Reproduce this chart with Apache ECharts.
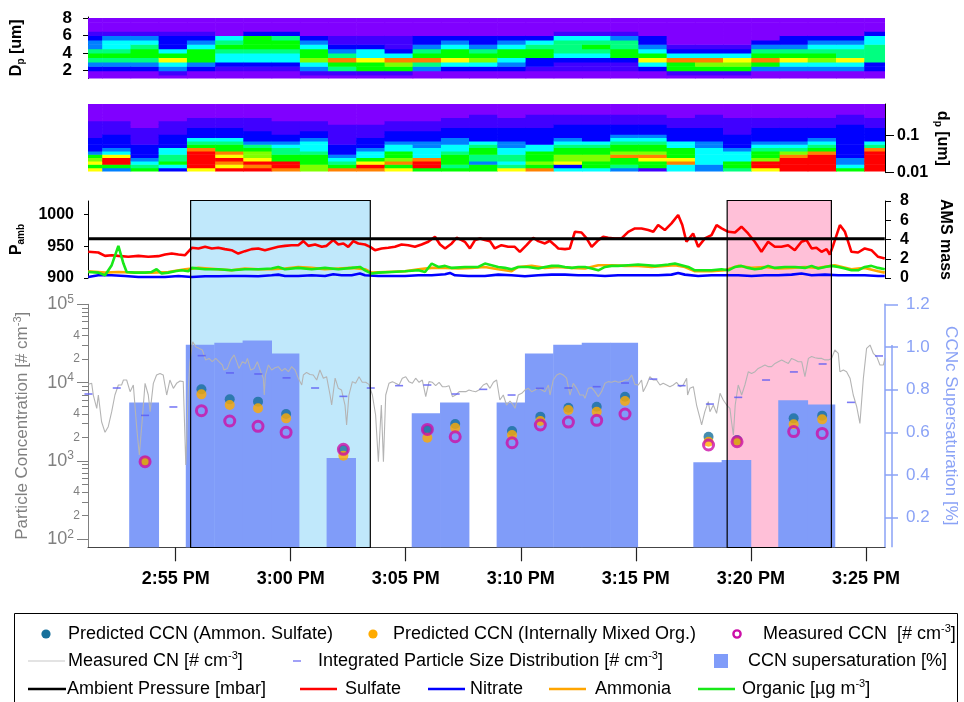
<!DOCTYPE html>
<html>
<head>
<meta charset="utf-8">
<script src="https://cdn.jsdelivr.net/npm/echarts@6/dist/echarts.min.js"></script>
<style>
  html, body { margin: 0; padding: 0; background: #ffffff; }
  #chart { width: 964px; height: 702px; }
</style>
</head>
<body>
<div id="chart"></div>
<script>
// Times are minutes after 12:00 PM.
const timeMin = 171.19;
const timeMax = 205.83;
const timeTicks = [175, 180, 185, 190, 195, 200, 205];

// Size-distribution scan boundaries (minutes after noon).
const scanEdges = [171.19, 171.81, 173.04, 174.26, 175.49, 176.72, 177.94, 179.17, 180.40, 181.62,
  182.85, 184.08, 185.30, 186.53, 187.75, 188.98, 190.21, 191.43, 192.66, 193.89,
  195.11, 196.34, 197.57, 198.79, 200.02, 201.25, 202.47, 203.70, 204.93, 205.83];

// Coarse mode bins, D_p [um], and the colour level (0-10, hex digit) of each bin per scan.
const coarseEdges = [1.0, 1.5, 2.0, 2.5, 3.0, 3.5, 4.0, 4.5, 5.0, 5.5, 6.0, 6.5, 7.0, 7.5, 8.0];
const coarseLevels = [
  "00235653321000", "00235654431000", "00235665431000", "01348642221000", "00236664321000",
  "00124456540000", "00124456662000", "00124456652000", "01347664320000", "01569532110000",
  "01668442110000", "01679421110000", "00359653220000", "00248664320000", "00247653220000",
  "00234664320000", "00122665420000", "00112455541000", "00112456541000", "00112665531000",
  "00248643220000", "01669421000000", "01679421000000", "01678421000000", "00369653200000",
  "00348653220000", "00347654320000", "00348554320000", "00225555442000"
];

// Fine mode bins, d_p [um] (log spaced), and colour level per scan.
const fineEdges = [0.01119, 0.01378, 0.01698, 0.02090, 0.02574, 0.03170, 0.03904, 0.04806, 0.05919,
  0.07289, 0.08974, 0.1105, 0.1361, 0.1676, 0.2064, 0.2541, 0.3130, 0.3854, 0.4746, 0.5843, 0.7194];
const fineLevels = [
  "86876322221111100000", "36aa8432222111100000", "65432222111110000000", "24655442222111100000",
  "8aaaaa96542221110000", "a89a8966542221110000", "a9a87765322211110000", "9aa66554322111100000",
  "77666544432211100000", "96543222111111000000", "9a864432221111000000", "86976644322211100000",
  "6aa94443322211100000", "65666544332221110000", "66355665422221111000", "85455443322221110000",
  "96766644222221111000", "42877665432222111000", "46677665422222111000", "35669766543222111000",
  "16689766543222111000", "44986664422221110000", "33444443322221111000", "56644432222111110000",
  "8aa76654322221110000", "aaaa9754322221110000", "aaaaa965432221110000", "64332222222222111000",
  "aaaaaa95422221110000"
];

// Ambient pressure [mbar]
const pressure = [[171.20, 962], [174.45, 962], [174.52, 960.6], [174.60, 962], [176.50, 962], [176.57, 960.6],
  [176.65, 962], [177.88, 962], [177.94, 960.8], [178.02, 962], [185.00, 962], [185.06, 961], [185.12, 962],
  [191.70, 962], [191.77, 960.8], [191.84, 962], [202.00, 962], [202.06, 960.6], [202.12, 962],
  [203.30, 962], [203.36, 960.6], [203.42, 962], [205.33, 962], [205.39, 960.8], [205.45, 962], [205.82, 962]];

// AMS species mass [ug m-3]
const sulfate = [[171.20, 2.72], [171.64, 2.65], [171.93, 2.30], [172.22, 2.37], [172.51, 2.30], [172.94, 2.20],
  [173.38, 2.30], [173.81, 2.20], [174.25, 2.27], [174.54, 2.44], [174.83, 2.54], [175.12, 2.44], [175.41, 2.37],
  [175.70, 3.14], [175.99, 3.07], [176.28, 3.24], [176.57, 3.07], [176.85, 3.14], [177.14, 3.00], [177.43, 2.89],
  [177.72, 2.54], [178.01, 2.79], [178.30, 3.00], [178.59, 3.07], [178.88, 2.89], [179.17, 3.07], [179.46, 3.24],
  [179.75, 3.34], [180.04, 3.41], [180.33, 3.41], [180.55, 3.83], [180.77, 3.34], [181.06, 3.48], [181.35, 3.24],
  [181.56, 3.34], [181.85, 3.94], [182.07, 3.48], [182.29, 3.59], [182.50, 3.24], [182.72, 3.83], [182.94, 3.59],
  [183.23, 3.48], [183.45, 3.24], [183.66, 2.89], [183.95, 3.07], [184.24, 3.14], [184.53, 3.24], [184.82, 3.48],
  [185.11, 3.41], [185.40, 3.24], [185.69, 3.48], [185.98, 3.76], [186.27, 4.28], [186.49, 3.48], [186.71, 3.07],
  [187.00, 3.59], [187.21, 4.18], [187.43, 3.94], [187.57, 3.76], [187.79, 3.07], [188.01, 3.94], [188.23, 4.11],
  [188.44, 3.94], [188.66, 3.83], [188.87, 3.07], [189.16, 3.41], [189.45, 3.24], [189.74, 3.24], [189.96, 2.72],
  [190.25, 3.41], [190.54, 4.18], [190.76, 3.83], [191.05, 3.59], [191.26, 3.87], [191.48, 3.41], [191.63, 3.07],
  [191.92, 3.00], [192.13, 3.07], [192.35, 4.80], [192.64, 4.73], [192.86, 4.11], [193.08, 3.24], [193.37, 3.94],
  [193.58, 4.28], [193.80, 4.18], [194.09, 4.11], [194.38, 4.11], [194.67, 4.80], [194.96, 5.15], [195.25, 5.15],
  [195.54, 4.98], [195.76, 4.80], [195.97, 5.50], [196.26, 4.98], [196.55, 5.68], [196.84, 6.55], [197.02, 5.50],
  [197.20, 3.76], [197.49, 4.63], [197.71, 3.24], [198.00, 4.11], [198.29, 4.46], [198.51, 5.50], [198.73, 5.15],
  [199.02, 4.80], [199.31, 4.73], [199.59, 5.33], [199.88, 4.63], [200.17, 3.76], [200.46, 2.72], [200.75, 3.76],
  [201.04, 3.24], [201.33, 3.24], [201.62, 3.41], [201.91, 2.89], [202.20, 3.76], [202.42, 3.94], [202.64, 3.07],
  [202.85, 3.14], [203.07, 2.72], [203.29, 3.00], [203.43, 2.44], [203.58, 3.41], [203.87, 5.50], [204.09, 4.80],
  [204.37, 2.72], [204.66, 2.65], [204.95, 3.07], [205.24, 2.89], [205.53, 2.20], [205.82, 2.02]];

const nitrate = [[171.20, 0.11], [171.64, 0.28], [172.22, 0.28], [172.80, 0.21], [173.38, 0.11], [173.96, 0.11],
  [174.54, 0.11], [175.12, 0.21], [175.70, 0.11], [176.28, 0.18], [176.85, 0.18], [177.43, 0.21], [178.01, 0.21],
  [178.59, 0.18], [179.17, 0.28], [179.46, 0.35], [179.75, 0.21], [180.33, 0.21], [180.91, 0.28], [181.49, 0.21],
  [181.85, 0.39], [182.21, 0.28], [182.65, 0.28], [183.01, 0.46], [183.23, 0.28], [183.81, 0.21], [184.39, 0.21],
  [184.97, 0.21], [185.55, 0.28], [186.13, 0.28], [186.71, 0.39], [186.92, 0.53], [187.14, 0.28], [187.72, 0.21],
  [188.44, 0.21], [189.02, 0.35], [189.60, 0.28], [190.18, 0.18], [190.76, 0.28], [191.34, 0.35], [191.92, 0.35],
  [192.50, 0.28], [193.08, 0.28], [193.66, 0.21], [194.23, 0.28], [194.81, 0.28], [195.39, 0.28], [195.97, 0.28],
  [196.55, 0.35], [196.84, 0.53], [197.13, 0.35], [197.71, 0.21], [198.29, 0.28], [198.87, 0.28], [199.45, 0.28],
  [200.03, 0.21], [200.61, 0.28], [201.19, 0.28], [201.77, 0.35], [202.20, 0.46], [202.64, 0.28], [203.22, 0.35],
  [203.80, 0.28], [204.37, 0.28], [204.95, 0.28], [205.53, 0.21], [205.82, 0.21]];

const ammonia = [[171.20, 0.70], [171.93, 0.56], [172.51, 0.63], [173.23, 0.56], [173.96, 0.56], [174.68, 0.63],
  [175.41, 0.91], [175.99, 1.05], [176.85, 0.91], [177.43, 0.80], [178.01, 0.98], [178.59, 0.91], [179.17, 0.91],
  [179.75, 0.98], [180.33, 1.15], [180.91, 1.05], [181.49, 0.91], [182.07, 0.98], [182.65, 1.05], [183.23, 0.91],
  [183.52, 0.56], [184.10, 0.63], [184.97, 0.70], [185.55, 0.91], [186.13, 1.05], [186.71, 1.05], [187.28, 0.98],
  [187.86, 1.05], [188.44, 1.15], [189.02, 0.91], [189.60, 0.70], [189.89, 1.15], [190.47, 1.26], [191.05, 1.05],
  [191.63, 1.15], [192.21, 1.05], [192.79, 0.98], [193.37, 1.33], [193.95, 1.33], [194.52, 1.26], [195.10, 1.26],
  [195.68, 1.15], [196.26, 1.26], [196.70, 1.33], [197.13, 1.15], [197.57, 0.70], [198.29, 0.70], [198.87, 0.80],
  [199.45, 1.26], [200.03, 1.05], [200.61, 1.15], [201.19, 0.98], [201.77, 1.05], [202.35, 1.15], [202.93, 1.05],
  [203.65, 1.33], [204.37, 0.91], [204.95, 1.05], [205.53, 0.70], [205.82, 0.56]];

const organic = [[171.20, 0.63], [171.64, 0.56], [171.93, 0.28], [172.22, 1.33], [172.51, 3.34], [172.73, 1.50],
  [172.87, 0.63], [173.23, 0.56], [173.67, 0.56], [173.96, 0.63], [174.17, 0.91], [174.39, 0.46], [174.68, 0.56],
  [174.97, 0.70], [175.26, 0.80], [175.55, 0.70], [175.70, 1.05], [176.28, 0.91], [176.85, 0.91], [177.43, 0.80],
  [178.01, 0.91], [178.59, 0.91], [179.17, 0.98], [179.46, 1.15], [179.75, 0.91], [180.33, 1.05], [180.91, 0.91],
  [181.49, 1.05], [182.07, 0.91], [182.65, 1.05], [183.01, 1.15], [183.23, 0.80], [183.52, 0.46], [183.81, 0.56],
  [184.39, 0.63], [184.97, 0.70], [185.55, 0.80], [185.84, 0.63], [186.13, 1.50], [186.42, 1.15], [186.71, 1.26],
  [187.00, 1.05], [187.57, 1.15], [188.15, 1.15], [188.44, 1.50], [188.73, 1.33], [189.02, 1.15], [189.31, 1.05],
  [189.60, 0.91], [189.89, 1.15], [190.32, 1.15], [190.76, 0.98], [191.05, 1.15], [191.34, 1.26], [191.63, 1.26],
  [191.92, 1.15], [192.21, 1.05], [192.50, 1.15], [192.79, 1.15], [193.08, 0.98], [193.37, 0.80], [193.66, 1.15],
  [193.95, 1.26], [194.23, 1.26], [194.67, 1.33], [195.10, 1.40], [195.54, 1.33], [195.83, 1.26], [196.12, 1.33],
  [196.41, 1.40], [196.70, 1.50], [196.99, 1.33], [197.28, 1.15], [197.57, 0.80], [197.86, 0.80], [198.29, 0.80],
  [198.73, 0.91], [199.02, 0.80], [199.31, 1.15], [199.59, 1.26], [199.88, 1.05], [200.17, 0.91], [200.46, 0.98],
  [200.75, 1.26], [201.04, 1.05], [201.48, 1.15], [201.91, 1.15], [202.35, 1.05], [202.64, 1.26], [202.93, 0.98],
  [203.22, 1.15], [203.51, 1.26], [203.80, 1.15], [204.09, 0.98], [204.37, 0.80], [204.66, 0.80], [204.95, 1.15],
  [205.24, 1.26], [205.53, 1.05], [205.82, 0.91]];

// Measured CN [# cm-3]
const measuredCN = [[171.21, 9510], [171.35, 9800], [171.42, 6950], [171.57, 4700], [171.64, 6950], [171.78, 3170],
  [171.93, 2320], [172.07, 2740], [172.22, 4260], [172.36, 6950], [172.51, 9330], [172.65, 9330], [172.73, 10800],
  [172.87, 10800], [173.02, 7670], [173.16, 9330], [173.31, 2610], [173.42, 1190], [173.54, 3170], [173.67, 9800],
  [173.81, 6950], [173.89, 4260], [174.03, 9800], [174.17, 12500], [174.32, 13100], [174.46, 12500], [174.61, 6950],
  [174.75, 10800], [174.90, 8460], [175.04, 9800], [175.19, 10500], [175.33, 10300], [175.44, 890], [175.55, 8460],
  [175.62, 18500], [175.74, 33300], [175.87, 28800], [176.01, 27400], [176.16, 26100], [176.30, 19500], [176.45, 20400],
  [176.59, 18500], [176.74, 20400], [176.88, 18500], [177.03, 16800], [177.10, 14500], [177.25, 15200], [177.39, 19500],
  [177.54, 22600], [177.68, 17600], [177.75, 15200], [177.90, 18500], [178.04, 17600], [178.12, 20400], [178.26, 14500],
  [178.41, 15200], [178.55, 18500], [178.70, 13800], [178.81, 11400], [178.85, 6950], [178.90, 12500], [179.03, 16800],
  [179.17, 14500], [179.32, 15500], [179.46, 16000], [179.61, 14100], [179.75, 15200], [179.90, 13800], [180.04, 16000],
  [180.19, 14500], [180.33, 11400], [180.48, 9330], [180.55, 12500], [180.69, 13500], [180.84, 12700], [180.98, 12500],
  [181.13, 10800], [181.27, 14500], [181.42, 11400], [181.56, 11900], [181.71, 6950], [181.78, 5180], [181.93, 11400],
  [182.07, 8460], [182.21, 8050], [182.36, 5180], [182.43, 2880], [182.53, 6950], [182.68, 10300], [182.82, 9800],
  [182.97, 11900], [183.11, 10100], [183.26, 10100], [183.40, 9510], [183.55, 6950], [183.69, 3860], [183.81, 980],
  [183.90, 3170], [183.94, 5180], [184.03, 980], [184.13, 6950], [184.27, 9800], [184.42, 10300], [184.56, 9800],
  [184.71, 9330], [184.85, 11400], [185.00, 11900], [185.14, 10300], [185.29, 9800], [185.43, 11400], [185.58, 10100],
  [185.72, 10800], [185.87, 6620], [186.01, 10300], [186.16, 10100], [186.30, 9150], [186.45, 10100], [186.59, 8880],
  [186.74, 8880], [186.88, 9150], [187.03, 6620], [187.17, 6950], [187.32, 7670], [187.46, 7670], [187.61, 7670],
  [187.75, 8050], [187.89, 7820], [188.04, 7670], [188.18, 8050], [188.37, 9330], [188.52, 9800], [188.66, 8460],
  [188.81, 10100], [188.95, 10800], [189.09, 6000], [189.24, 6950], [189.38, 5180], [189.53, 5830], [189.67, 5180],
  [189.75, 4700], [189.89, 6950], [190.04, 7300], [190.18, 8050], [190.33, 8460], [190.47, 7670], [190.62, 8050],
  [190.76, 8460], [190.91, 8050], [191.05, 7670], [191.20, 9330], [191.27, 6950], [191.41, 10800], [191.56, 12500],
  [191.70, 13100], [191.85, 12500], [191.99, 11400], [192.14, 6950], [192.28, 9800], [192.43, 8460], [192.57, 6950],
  [192.72, 6950], [192.79, 6300], [192.93, 8460], [193.08, 8630], [193.22, 7670], [193.37, 6620], [193.51, 7670],
  [193.66, 9800], [193.80, 10300], [193.95, 10100], [194.09, 10500], [194.24, 10100], [194.38, 10300], [194.53, 10800],
  [194.67, 10800], [194.82, 12500], [194.96, 9510], [195.11, 9330], [195.25, 10800], [195.32, 7670], [195.47, 9330],
  [195.61, 11900], [195.76, 10800], [195.90, 10800], [196.05, 9330], [196.19, 9800], [196.34, 9330], [196.48, 8880],
  [196.63, 9330], [196.77, 10100], [196.92, 8880], [197.06, 9330], [197.21, 11400], [197.25, 6950], [197.35, 8460],
  [197.50, 8880], [197.64, 5180], [197.79, 3500], [197.86, 2880], [198.00, 4260], [198.15, 5720], [198.22, 4260],
  [198.37, 5180], [198.51, 4050], [198.66, 7300], [198.80, 6000], [198.95, 5180], [199.09, 4700], [199.16, 3170],
  [199.24, 2150], [199.32, 5180], [199.45, 9330], [199.60, 6950], [199.74, 9330], [199.89, 13800], [200.03, 13100],
  [200.18, 13800], [200.32, 15200], [200.47, 16000], [200.61, 16800], [200.76, 16000], [200.90, 16000], [201.05, 17600],
  [201.19, 18500], [201.34, 19500], [201.48, 18500], [201.63, 17600], [201.77, 20400], [201.92, 19500], [202.06, 18500],
  [202.21, 18500], [202.35, 11900], [202.50, 20400], [202.64, 21500], [202.79, 20800], [202.93, 20400], [203.08, 20400],
  [203.22, 19500], [203.37, 19500], [203.51, 20400], [203.65, 26100], [203.80, 23700], [203.87, 13800], [204.02, 14500],
  [204.16, 13800], [204.31, 11400], [204.45, 6950], [204.60, 4950], [204.74, 3020], [204.89, 11400], [205.03, 27400],
  [205.18, 30200], [205.32, 23700], [205.47, 21500], [205.61, 16800], [205.76, 16800], [205.83, 20400]];

// Integrated particle size distribution [# cm-3], one value per scan
const integratedPSD = [[171.21, 7160], [172.44, 8540], [173.67, 3820], [174.90, 4890], [176.13, 22100],
  [177.36, 13300], [178.59, 12900], [179.82, 11500], [181.06, 8540], [182.29, 6680], [183.48, 8540], [184.71, 9150],
  [185.94, 9330], [187.17, 7160], [188.37, 8210], [189.60, 6950], [190.83, 8460], [192.07, 8540], [193.30, 8880],
  [194.53, 9890], [195.76, 11100], [196.99, 9150], [198.22, 5330], [199.45, 6490], [200.66, 10800], [201.87, 13700],
  [203.12, 17300], [204.35, 5600], [205.57, 21900]];

// CCN counter supersaturation [%]: [start, end, value]
const ccnSupersaturation = [[172.98, 174.26, 0.74], [175.44, 176.68, 1.01], [176.68, 177.91, 1.02],
  [177.91, 179.17, 1.03], [179.17, 180.36, 0.97], [181.56, 182.82, 0.48], [185.26, 186.49, 0.69],
  [186.49, 187.75, 0.74], [188.95, 190.18, 0.74], [190.18, 191.41, 0.97], [191.41, 192.65, 1.01],
  [192.65, 193.88, 1.02], [193.88, 195.08, 1.02], [197.50, 198.73, 0.46], [198.73, 200.00, 0.47],
  [201.19, 202.47, 0.75], [202.47, 203.65, 0.73]];

// CCN closure points [# cm-3]
const ccnTimes = [173.67, 176.12, 177.35, 178.58, 179.80, 182.29, 185.94, 187.15, 189.62, 190.85, 192.07,
  193.30, 194.53, 198.16, 199.40, 201.86, 203.10];
const predictedAS = [1000, 8210, 6120, 5720, 3980, 1380, 2490, 2960, 2410, 3680, 4790, 4930, 6620, 2040, 1850, 3500, 3790];
const predictedOrg = [990, 7090, 5180, 4700, 3500, 1170, 1980, 2660, 2150, 3240, 4470, 4260, 5830, 1760, 1760, 2940, 3400];
const measuredCCN = [980, 4390, 3240, 2770, 2320, 1410, 2530, 2040, 1710, 2880, 3140, 3300, 3980, 1600, 1760, 2370, 2250];

// Highlighted periods
const highlightSpans = [[175.65, 183.46], [198.97, 203.50]];
const highlightColors = ['#c0e8fb', '#ffc0d8'];

const FONT = '"Liberation Sans", Arial, Helvetica, sans-serif';
const rainbow = ['#8000ff', '#4000ff', '#0000ff', '#0080ff', '#00ffff', '#00ff80', '#00ff00', '#80ff00', '#ffff00', '#ff8000', '#ff0000'];
const ssColor = '#809cf9';
const ssAxisColor = '#8aa2f6';
const grayAxis = '#808080';

function pair(times, values) { return times.map((t, i) => [t, values[i]]); }

function buildCells(levels, rowEdges) {
  const out = [];
  levels.forEach((col, i) => {
    for (let r = 0; r < col.length && r < rowEdges.length - 1; r++) {
      out.push([scanEdges[i], scanEdges[i + 1], rowEdges[r], rowEdges[r + 1], parseInt(col[r], 16)]);
    }
  });
  return out;
}

function renderCell(params, api) {
  const a = api.coord([api.value(0), api.value(3)]);
  const b = api.coord([api.value(1), api.value(2)]);
  return {
    type: 'rect',
    shape: { x: a[0], y: a[1], width: b[0] - a[0] + 0.6, height: b[1] - a[1] + 0.6 },
    style: { fill: rainbow[api.value(4)] }
  };
}

function renderSpan(fillFn) {
  return function (params, api) {
    const x0 = api.coord([api.value(0), 0.5])[0];
    const x1 = api.coord([api.value(1), 0.5])[0];
    const cs = params.coordSys;
    return { type: 'rect', shape: { x: x0, y: cs.y, width: x1 - x0, height: cs.height }, style: fillFn(params.dataIndex) };
  };
}

function clockLabel(v) {
  const h = Math.floor(v / 60);
  const m = Math.round(v - h * 60);
  const hh = h % 12 === 0 ? 12 : h % 12;
  return hh + ':' + (m < 10 ? '0' : '') + m + ' PM';
}

const boldLabel = { color: '#000', fontFamily: FONT, fontSize: 16, fontWeight: 'bold' };
const grids = [
  { left: 88, right: 79, top: 17, height: 61.5 },
  { left: 88, right: 79, top: 104, height: 68.7 },
  { left: 88, right: 79, top: 201, height: 77 },
  { left: 88, right: 79, top: 304.3, height: 243 },
  { left: 88, right: 79, top: 200.5, height: 347 }
].map(g => Object.assign({ outerBoundsMode: 'none', containLabel: false, show: false }, g));

const xAxes = grids.map((g, i) => ({
  type: 'value', gridIndex: i, min: timeMin, max: timeMax, show: i === 3,
  splitLine: { show: false },
  axisLine: { show: true, onZero: false, lineStyle: { color: '#444', width: 1.2 } },
  axisTick: { show: true, length: 14, customValues: timeTicks, lineStyle: { color: '#222', width: 1.2 } },
  axisLabel: { customValues: timeTicks, formatter: clockLabel, margin: 23, color: '#000',
    fontFamily: FONT, fontSize: 18, fontWeight: 'bold' }
}));

const minorConc = [200, 300, 400, 500, 600, 700, 800, 900, 2000, 3000, 4000, 5000, 6000, 7000, 8000, 9000,
  20000, 30000, 40000, 50000, 60000, 70000, 80000, 90000];

const subRich = {
  b: { fontFamily: FONT, fontSize: 16, fontWeight: 'bold', color: '#000', lineHeight: 18 },
  s: { fontFamily: FONT, fontSize: 10, fontWeight: 'bold', color: '#000', lineHeight: 18, verticalAlign: 'bottom' }
};

const yAxes = [
  { // coarse mode diameter
    type: 'value', gridIndex: 0, position: 'left', min: 1.1, max: 8.1,
    splitLine: { show: false },
    axisLine: { show: true, lineStyle: { color: '#000' } },
    axisTick: { show: true, length: 5, customValues: [2, 4, 6, 8], lineStyle: { color: '#000' } },
    axisLabel: Object.assign({ customValues: [2, 4, 6, 8], margin: 16, fontSize: 17 }, { color: '#000', fontFamily: FONT, fontWeight: 'bold' }),
    name: '{b|D}{s|p}{b| [um]}', nameLocation: 'middle', nameRotate: 90, nameGap: 62, nameMoveOverlap: false,
    nameTextStyle: { rich: subRich }
  },
  { // fine mode diameter
    type: 'log', gridIndex: 1, position: 'right', min: 0.01, max: 0.7194,
    splitLine: { show: false },
    axisLine: { show: true, lineStyle: { color: '#000' } },
    axisTick: { show: true, length: 9, customValues: [0.01, 0.1], lineStyle: { color: '#000' } },
    axisLabel: Object.assign({ customValues: [0.01, 0.1], margin: 12, formatter: v => (v < 0.05 ? '0.01' : '0.1') }, boldLabel),
    name: '{b|d}{s|p}{b| [um]}', nameLocation: 'middle', nameRotate: -90, nameGap: 48, nameMoveOverlap: false,
    nameTextStyle: { rich: subRich }
  },
  { // ambient pressure
    type: 'value', gridIndex: 2, position: 'left', min: 900, max: 1021.6,
    splitLine: { show: false },
    axisLine: { show: true, lineStyle: { color: '#000' } },
    axisTick: { show: true, length: 4, customValues: [900, 950, 1000], lineStyle: { color: '#000' } },
    axisLabel: Object.assign({ customValues: [900, 950, 1000], margin: 14, formatter: v => String(Math.round(v)) }, boldLabel),
    name: '{b|P}{s|amb}', nameLocation: 'middle', nameRotate: 90, nameGap: 62, nameMoveOverlap: false,
    nameTextStyle: { rich: subRich }
  },
  { // AMS mass
    type: 'value', gridIndex: 2, position: 'right', min: 0, max: 8,
    splitLine: { show: false },
    axisLine: { show: true, lineStyle: { color: '#000' } },
    axisTick: { show: true, length: 6, customValues: [0, 2, 4, 6, 8], lineStyle: { color: '#000' } },
    axisLabel: Object.assign({ customValues: [0, 2, 4, 6, 8], margin: 15 }, boldLabel),
    name: 'AMS mass', nameLocation: 'middle', nameRotate: -90, nameGap: 52, nameMoveOverlap: false,
    nameTextStyle: { fontFamily: FONT, fontSize: 16, fontWeight: 'bold', color: '#000' }
  },
  { // particle concentration, decades
    type: 'log', gridIndex: 3, position: 'left', min: 79.1, max: 100000,
    splitLine: { show: false },
    axisLine: { show: true, lineStyle: { color: grayAxis } },
    axisTick: { show: true, length: 11, customValues: [100, 1000, 10000, 100000], lineStyle: { color: grayAxis } },
    axisLabel: {
      customValues: [100, 1000, 10000, 100000], margin: 14,
      formatter: v => '{n|10}{e|' + Math.round(Math.log10(v)) + '}',
      rich: { n: { fontFamily: FONT, fontSize: 18, color: grayAxis, lineHeight: 22 },
        e: { fontFamily: FONT, fontSize: 12, color: grayAxis, lineHeight: 22, verticalAlign: 'top' } }
    },
    name: 'Particle Concentration [# cm{e|-3}]', nameLocation: 'middle', nameRotate: 90, nameGap: 56, nameMoveOverlap: false,
    nameTextStyle: { fontFamily: FONT, fontSize: 17, color: grayAxis, lineHeight: 20,
      rich: { e: { fontFamily: FONT, fontSize: 11, color: grayAxis, lineHeight: 20, verticalAlign: 'top' } } }
  },
  { // particle concentration, intermediate ticks
    type: 'log', gridIndex: 3, position: 'left', min: 79.1, max: 100000,
    splitLine: { show: false },
    axisLine: { show: false },
    axisTick: { show: true, length: 6, customValues: minorConc, lineStyle: { color: grayAxis } },
    axisLabel: {
      customValues: [200, 400, 2000, 4000, 20000, 40000], margin: 8,
      formatter: v => String(v).charAt(0),
      fontFamily: FONT, fontSize: 12, color: grayAxis
    }
  },
  { // CCN supersaturation
    type: 'value', gridIndex: 3, position: 'right', min: 0.0613, max: 1.2,
    splitLine: { show: false },
    axisLine: { show: true, lineStyle: { color: ssAxisColor, width: 1.5 } },
    axisTick: { show: true, length: 13, customValues: [0.2, 0.4, 0.6, 0.8, 1.0, 1.2], lineStyle: { color: ssAxisColor, width: 1.5 } },
    axisLabel: { customValues: [0.2, 0.4, 0.6, 0.8, 1.0, 1.2], margin: 21, formatter: v => v.toFixed(1),
      fontFamily: FONT, fontSize: 17, color: ssAxisColor },
    name: 'CCNc Supersaturation [%]', nameLocation: 'middle', nameRotate: -90, nameGap: 57, nameMoveOverlap: false,
    nameTextStyle: { fontFamily: FONT, fontSize: 17, color: ssAxisColor }
  },
  { type: 'value', gridIndex: 4, show: false, min: 0, max: 1, splitLine: { show: false } }
];

function amsLine(name, data, color, z) {
  return { name, type: 'line', xAxisIndex: 2, yAxisIndex: 3, data, symbol: 'none', z,
    lineStyle: { color, width: 2.6 }, silent: true, animation: false };
}

function ccnScatter(name, data, style, size, z) {
  return { name, type: 'scatter', xAxisIndex: 3, yAxisIndex: 4, data, symbol: 'circle', symbolSize: size, z,
    itemStyle: style, silent: true, animation: false };
}

const series = [
  { name: 'Highlight fill', type: 'custom', xAxisIndex: 4, yAxisIndex: 7, z: 1, silent: true,
    data: highlightSpans, encode: { x: [0, 1] },
    renderItem: renderSpan(i => ({ fill: highlightColors[i] })) },
  { name: 'Coarse size distribution', type: 'custom', xAxisIndex: 0, yAxisIndex: 0, z: 2, clip: true, silent: true,
    data: buildCells(coarseLevels, coarseEdges), encode: { x: [0, 1], y: [2, 3] }, renderItem: renderCell },
  { name: 'Fine size distribution', type: 'custom', xAxisIndex: 1, yAxisIndex: 1, z: 2, clip: true, silent: true,
    data: buildCells(fineLevels, fineEdges), encode: { x: [0, 1], y: [2, 3] }, renderItem: renderCell },
  amsLine('Sulfate', sulfate, '#ff0000', 3),
  amsLine('Nitrate', nitrate, '#0000ff', 3),
  amsLine('Ammonia', ammonia, '#ffa500', 3),
  amsLine('Organic', organic, '#18e818', 4),
  { name: 'Ambient Pressure', type: 'line', xAxisIndex: 2, yAxisIndex: 2, data: pressure, symbol: 'none', z: 5,
    lineStyle: { color: '#000', width: 2.8 }, silent: true, animation: false },
  { name: 'CCN supersaturation', type: 'custom', xAxisIndex: 3, yAxisIndex: 6, z: 2, silent: true,
    data: ccnSupersaturation, encode: { x: [0, 1], y: 2 },
    renderItem: function (params, api) {
      const a = api.coord([api.value(0), api.value(2)]);
      const b = api.coord([api.value(1), api.value(2)]);
      const cs = params.coordSys;
      return { type: 'rect', shape: { x: a[0], y: a[1], width: b[0] - a[0] + 0.4, height: cs.y + cs.height - a[1] },
        style: { fill: ssColor } };
    } },
  { // secondary supersaturation scale bar beside the right axis, from 1.0 down
    name: 'Supersaturation scale', type: 'custom', xAxisIndex: 3, yAxisIndex: 6, z: 2, silent: true,
    data: [[timeMax, 1.0]], encode: { x: 0, y: 1 },
    renderItem: function (params, api) {
      const p = api.coord([api.value(0), api.value(1)]);
      const cs = params.coordSys;
      return { type: 'line', shape: { x1: p[0] + 7, y1: p[1] - 2, x2: p[0] + 7, y2: cs.y + cs.height },
        style: { stroke: ssAxisColor, lineWidth: 1.5 } };
    }, clip: false },
  { name: 'Measured CN', type: 'line', xAxisIndex: 3, yAxisIndex: 4, data: measuredCN, symbol: 'none', z: 3,
    lineStyle: { color: '#b4b4b4', width: 1.1 }, silent: true, animation: false },
  { name: 'Integrated Particle Size Distribution', type: 'scatter', xAxisIndex: 3, yAxisIndex: 4, data: integratedPSD,
    symbol: 'rect', symbolSize: [8, 1.6], z: 4, itemStyle: { color: '#5a5af2' }, silent: true, animation: false },
  ccnScatter('Predicted CCN (Ammon. Sulfate)', pair(ccnTimes, predictedAS), { color: '#16709b' }, 10, 5),
  ccnScatter('Predicted CCN (Internally Mixed Org.)', pair(ccnTimes, predictedOrg), { color: '#ffab00' }, 10, 6),
  ccnScatter('Measured CCN', pair(ccnTimes, measuredCCN),
    { color: 'rgba(0,0,0,0)', borderColor: '#cc10a8', borderWidth: 3 }, 10, 7),
  { name: 'Highlight border', type: 'custom', xAxisIndex: 4, yAxisIndex: 7, z: 8, silent: true,
    data: highlightSpans, encode: { x: [0, 1] },
    renderItem: renderSpan(() => ({ fill: 'none', stroke: '#000', lineWidth: 1.2 })) }
];

// Legend drawn as graphic elements
const legendFont = { fontFamily: FONT, fontSize: 18, fill: '#000' };
const supRich = { s: { fontFamily: FONT, fontSize: 11, lineHeight: 21, verticalAlign: 'top', fill: '#000' },
  m: { fontFamily: FONT, fontSize: 18, lineHeight: 21, fill: '#000' } };
function legendText(x, y, text) {
  return { type: 'text', x, y, silent: true,
    style: Object.assign({ text, verticalAlign: 'middle', align: 'left', rich: supRich }, legendFont) };
}
function legendLine(x0, x1, y, color, width) {
  return { type: 'line', silent: true, shape: { x1: x0, y1: y, x2: x1, y2: y }, style: { stroke: color, lineWidth: width } };
}
const r1 = 634, r2 = 661, r3 = 689;
const graphic = [
  { type: 'rect', silent: true, shape: { x: 14.5, y: 613.5, width: 943, height: 100 }, style: { fill: 'none', stroke: '#000', lineWidth: 1 } },
  { type: 'circle', silent: true, shape: { cx: 46, cy: r1, r: 4.6 }, style: { fill: '#16709b' } },
  legendText(68, r1, '{m|Predicted CCN (Ammon. Sulfate)}'),
  { type: 'circle', silent: true, shape: { cx: 373, cy: r1, r: 4.6 }, style: { fill: '#ffab00' } },
  legendText(393, r1, '{m|Predicted CCN (Internally Mixed Org.)}'),
  { type: 'circle', silent: true, shape: { cx: 737, cy: r1, r: 3.6 }, style: { fill: 'none', stroke: '#cc10a8', lineWidth: 2.4 } },
  legendText(763, r1, '{m|Measured CCN  [# cm}{s|-3}{m|]}'),
  legendLine(28, 65, r2, '#c8c8c8', 1.2),
  legendText(68, r2, '{m|Measured CN [# cm}{s|-3}{m|]}'),
  legendLine(293, 301, r2, '#8a8af5', 1.6),
  legendText(318, r2, '{m|Integrated Particle Size Distribution [# cm}{s|-3}{m|]}'),
  { type: 'rect', silent: true, shape: { x: 714, y: r2 - 7, width: 14, height: 14 }, style: { fill: ssColor } },
  legendText(748, r2, '{m|CCN supersaturation [%]}'),
  legendLine(28, 66, r3, '#000', 2.6),
  legendText(67, r3, '{m|Ambient Pressure [mbar]}'),
  legendLine(300, 337, r3, '#ff0000', 2.6),
  legendText(345, r3, '{m|Sulfate}'),
  legendLine(428, 465, r3, '#0000ff', 2.6),
  legendText(470, r3, '{m|Nitrate}'),
  legendLine(549, 586, r3, '#ffa500', 2.6),
  legendText(595, r3, '{m|Ammonia}'),
  legendLine(698, 735, r3, '#18e818', 2.6),
  legendText(742, r3, '{m|Organic [\u00b5g m}{s|-3}{m|]}')
];

const chart = echarts.init(document.getElementById('chart'), null, { renderer: 'canvas' });
chart.setOption({
  animation: false,
  backgroundColor: '#ffffff',
  textStyle: { fontFamily: FONT },
  grid: grids,
  xAxis: xAxes,
  yAxis: yAxes,
  series,
  graphic
});
</script>
</body>
</html>
